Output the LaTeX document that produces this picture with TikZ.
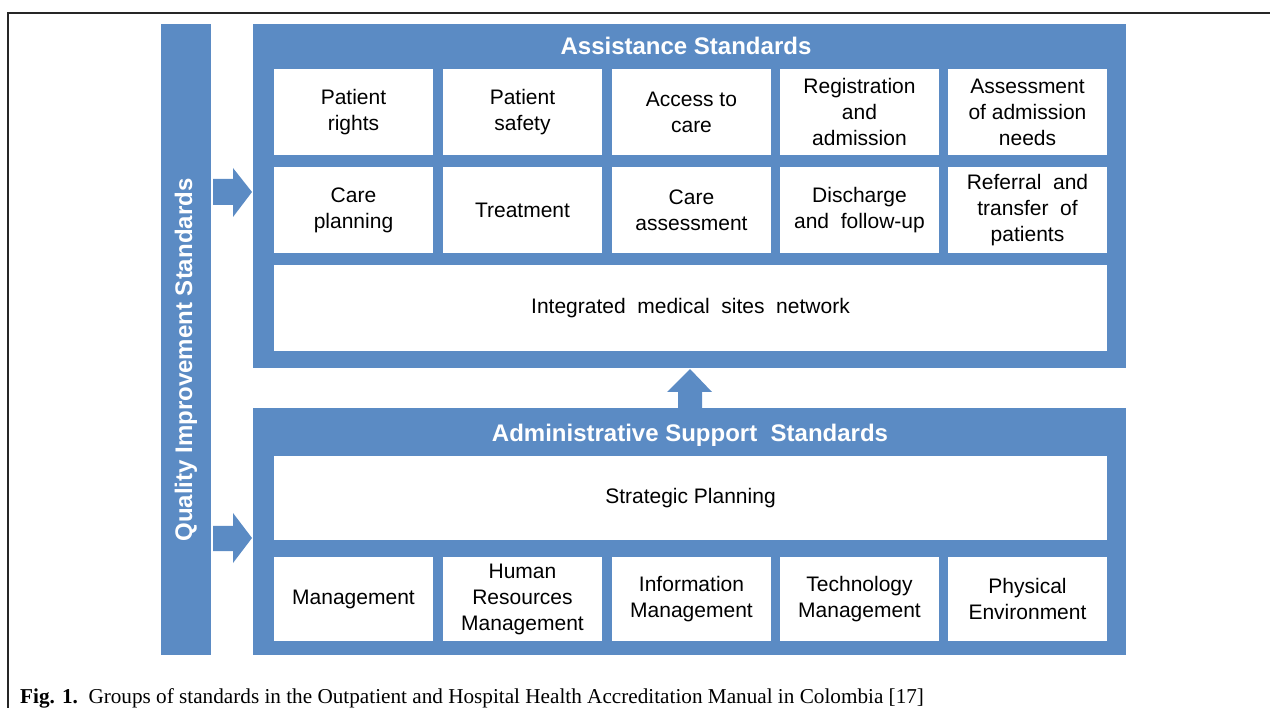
\documentclass[tikz,border=0pt]{standalone}
\usepackage{fontspec}
\setmainfont{Liberation Sans}
\newfontfamily\capfont{Liberation Serif}
\usepackage{tikz}
\definecolor{stdblue}{RGB}{91,139,196}

\begin{document}
\begin{tikzpicture} [x=1pt, y=-1pt,
					group/.style = {fill=stdblue, draw=none, anchor=north west},
					cell/.style = {fill=white, draw=none,
					    minimum width = 159pt, minimum height = 86pt,
					    inner sep = 0pt, align=center,
					    font=\fontsize{21}{26}\selectfont},
					wide/.style = {cell, minimum width = 833pt},
					title/.style = {text=white, font=\fontsize{24}{28}\selectfont\bfseries},
					block/.style = {fill=stdblue}]
					
					\useasboundingbox (0,0) rectangle (1270,708);
					\draw [line width=2pt, black!85] (8,708) -- (8,13) -- (1270,13);
					
					% groups
					\node (quality) [group, minimum width=50pt, minimum height=631pt] at (161,24) {};
					\node (assist) [group, minimum width=873pt, minimum height=344pt] at (253,24) {};
					\node (admin) [group, minimum width=873pt, minimum height=247pt] at (253,408) {};
					
					\node at (186,360) [title, rotate=90] {Quality Improvement Standards};
					\node (assisttitle) at (686,46) [title] {Assistance Standards};
					\node (admintitle) at (690,435) [title] {Administrative Support\ \ Standards};
					
					% assistance standards
					\node (rights) at (353.5,112) [cell] {Patient\\rights};
					\node (safety) at (522.5,112) [cell] {Patient\\safety};
					\node (access) at (691.5,112) [cell] {Access to\\care};
					\node (registration) at (859.5,112) [cell] {Registration\\and\\admission};
					\node (needs) at (1027.5,112) [cell] {Assessment\\of admission\\needs};
					
					\node (planning) at (353.5,210) [cell] {Care\\planning};
					\node (treatment) at (522.5,210) [cell] {Treatment};
					\node (careassess) at (691.5,210) [cell] {Care\\assessment};
					\node (discharge) at (859.5,210) [cell] {Discharge\\and\ \ follow-up};
					\node (referral) at (1027.5,210) [cell] {Referral\ \ and\\transfer\ \ of\\patients};
					
					\node (network) at (690.5,308) [wide] {Integrated\ \ medical\ \ sites\ \ network};
					
					% administrative support standards
					\node (strategic) at (690.5,498) [wide, minimum height=84pt] {Strategic Planning};
					
					\node (management) at (353.5,599) [cell, minimum height=84pt] {Management};
					\node (human) at (522.5,599) [cell, minimum height=84pt] {Human\\Resources\\Management};
					\node (information) at (691.5,599) [cell, minimum height=84pt] {Information\\Management};
					\node (technology) at (859.5,599) [cell, minimum height=84pt] {Technology\\Management};
					\node (physical) at (1027.5,599) [cell, minimum height=84pt] {Physical\\Environment};
					
					% block arrows
					\fill [block] (213,179) -- (233,179) -- (233,168) -- (252,192)
					    -- (233,217) -- (233,205) -- (213,205) -- cycle;
					\fill [block] (213,526) -- (233,526) -- (233,513) -- (252,538)
					    -- (233,563) -- (233,551) -- (213,551) -- cycle;
					\fill [block] (678,408) -- (678,392) -- (667,392) -- (690,369)
					    -- (712,392) -- (702,392) -- (702,408) -- cycle;
					
					\node (caption) at (20,703) [anchor=base west, inner sep=0pt,
					    font=\capfont\fontsize{21.2}{25}\selectfont]
					    {\textbf{Fig. 1.}\ \ Groups of standards in the Outpatient and Hospital Health Accreditation Manual in Colombia [17]};
					 
				\end{tikzpicture}
\end{document}
